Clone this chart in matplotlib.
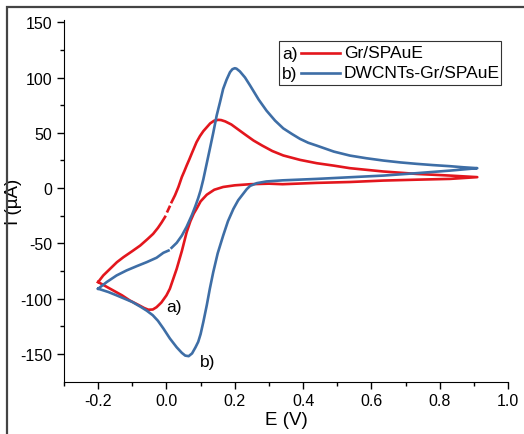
import numpy as np
import matplotlib.pyplot as plt
from matplotlib.patches import Rectangle

plt.rcParams['font.family'] = ['Liberation Sans', 'DejaVu Sans']
plt.rcParams['axes.unicode_minus'] = False

# Courbe a) Gr/SPAuE : branche aller puis branche retour (nan = petites coupures du tracé)
E_a_aller = [-0.2, -0.165, -0.13, -0.107, -0.08, -0.065, -0.053, -0.04, -0.029, -0.015, 0.0, 0.01,
             0.02, 0.03, 0.045, 0.059, 0.07, 0.08, 0.088, 0.1, 0.118, 0.14, 0.166, 0.2,
             0.245, 0.3, 0.34, 0.44, 0.537, 0.635, 0.733, 0.83, 0.91]
I_a_aller = [-85, -91, -97, -101.7, -106, -108.5, -110, -109.8, -107.7, -103.5, -97, -91,
             -82, -73, -57, -40, -30, -23, -18.8, -12, -6, -1.5, 1, 2.5,
             3.5, 4, 3.5, 4.7, 5.5, 6.8, 7.6, 8.3, 9.9]
E_a_retour = [0.91, 0.83, 0.733, 0.635, 0.537, 0.49, 0.44, 0.391, 0.342, 0.31, 0.28, 0.255,
              0.23, 0.21, 0.19, 0.172, 0.16, 0.152, 0.14, 0.128, 0.118, 0.108, 0.098, 0.088,
              0.075, 0.067, 0.059, 0.052, 0.045, 0.035, 0.025, 0.015, np.nan, 0.009, 0.003,
              np.nan, -0.004, -0.014, -0.025, -0.039, -0.055, -0.077, -0.1, -0.126, -0.145,
              -0.165, -0.185, -0.2]
I_a_retour = [9.9, 11.3, 12.8, 15, 18, 20.3, 22.5, 25.5, 29.5, 33.5, 38.5, 43,
              48.5, 53, 57.5, 60.3, 61.5, 61.7, 61, 58.5, 55, 51.5, 47, 41.5,
              32, 26, 20.3, 15, 10, 1, -6.5, -12.7, np.nan, -17, -21,
              np.nan, -26, -31, -36, -41.4, -46, -52, -57, -62.5, -67,
              -73, -79, -85]

# Courbe b) DWCNTs-Gr/SPAuE
E_b_aller = [-0.2, -0.17, -0.146, -0.126, -0.1, -0.075, -0.058, -0.04, -0.025, -0.009, 0.01, 0.03,
             0.045, 0.055, 0.065, 0.075, 0.085, 0.093, 0.1, 0.108, 0.118, 0.127, 0.137, 0.15,
             0.166, 0.18, 0.196, 0.21, 0.225, 0.235, 0.245, 0.265, 0.293, 0.34, 0.44, 0.537,
             0.635, 0.733, 0.83, 0.91]
I_b_aller = [-91, -94, -97, -99.6, -103, -107.5, -110.8, -115, -120, -127, -136, -144,
             -149, -151.5, -152, -149.5, -144, -139, -132, -121, -106, -91, -76, -59,
             -43, -30, -18.8, -11, -5, -1, 2, 4.5, 6, 7, 8.3, 9.8,
             11.3, 13.5, 15.8, 18]
E_b_retour = [0.91, 0.87, 0.83, 0.78, 0.733, 0.685, 0.635, 0.585, 0.537, 0.49, 0.44, 0.415,
              0.391, 0.367, 0.342, 0.318, 0.293, 0.27, 0.245, 0.23, 0.215, 0.205, 0.2, 0.193,
              0.186, 0.176, 0.166, 0.157, 0.147, 0.137, 0.127, 0.117, 0.108, 0.1, 0.093, 0.085,
              0.075, 0.059, 0.045, 0.03, 0.015, np.nan, 0.006, -0.009, -0.029, -0.058, -0.087,
              -0.117, -0.146, -0.175, -0.2]
I_b_retour = [18, 18.8, 19.8, 20.8, 21.9, 23.2, 24.9, 27, 29.4, 33, 38.4, 41,
              44.5, 49, 54, 61, 70, 80, 92.7, 100, 105.5, 108, 108.4, 107.5,
              104.8, 98, 89.7, 78, 65.6, 50, 35.4, 21, 8, -2, -9, -16,
              -24, -35, -43, -49.5, -54, np.nan, -56.5, -58.5, -63, -67, -70.6,
              -74.5, -79, -85, -91]

rouge = '#e3161d'
bleu = '#3e6ea6'

fig = plt.figure(figsize=(5.24, 4.35), dpi=100)
ax = fig.add_axes([64/524, 1-382.6/435, (508-64)/524, (382.6-21)/435])

ax.plot(E_a_aller + E_a_retour, I_a_aller + I_a_retour, color=rouge, lw=1.9)
ax.plot(E_b_aller + E_b_retour, I_b_aller + I_b_retour, color=bleu, lw=1.9)

ax.text(0.0, -107, 'a)', fontsize=12.5, va='center', ha='left')
ax.text(0.098, -157, 'b)', fontsize=12.5, va='center', ha='left')

ax.set_xlim(-0.3, 1.0)
ax.set_ylim(-175, 152)
ax.set_xticks(np.arange(-0.2, 1.01, 0.2))
ax.set_xticklabels(['-0.2', '0.0', '0.2', '0.4', '0.6', '0.8', '1.0'])
ax.set_xticks(np.arange(-0.3, 1.01, 0.1), minor=True)
ax.set_yticks(np.arange(-150, 151, 50))
ax.set_yticks(np.arange(-150, 151, 25), minor=True)
ax.tick_params(which='major', direction='out', length=5, width=1, labelsize=11.5)
ax.tick_params(which='minor', direction='out', length=3, width=1)
for s in ['top', 'right']:
    ax.spines[s].set_visible(False)
ax.set_xlabel('E (V)', fontsize=13.5, labelpad=2)
ax.set_ylabel('I (µA)', fontsize=13.5)
ax.yaxis.set_label_coords(-0.094, 0.5)

# légende dessinée à la main : "a) ——— Gr/SPAuE"
tr = ax.transAxes
def ax_xy(px, py):
    return (px-64)/444, (382.6-py)/(382.6-21)
x0, y0 = ax_xy(279, 86)
x1, y1 = ax_xy(501, 41.7)
ax.add_patch(Rectangle((x0, y0), x1-x0, y1-y0, transform=tr, fill=False, lw=0.8, ec='#333333'))
for py, lettre, col, lab in [(54, 'a)', rouge, 'Gr/SPAuE'), (74, 'b)', bleu, 'DWCNTs-Gr/SPAuE')]:
    xa, ya = ax_xy(282, py)
    ax.text(xa, ya, lettre, transform=tr, fontsize=12.5, va='center', ha='left')
    xl0, _ = ax_xy(301, py)
    xl1, _ = ax_xy(340, py)
    ax.plot([xl0, xl1], [ya, ya], transform=tr, color=col, lw=1.9)
    xt, _ = ax_xy(344, py)
    ax.text(xt, ya, lab, transform=tr, fontsize=12.5, va='center', ha='left')

# cadre extérieur de l'image
fig.patches.append(Rectangle((7/524, -0.1), 1.2, 1.1-7.5/435, transform=fig.transFigure,
                             fill=False, lw=1.6, ec='#444444'))

fig.savefig('out.png', dpi=100)
